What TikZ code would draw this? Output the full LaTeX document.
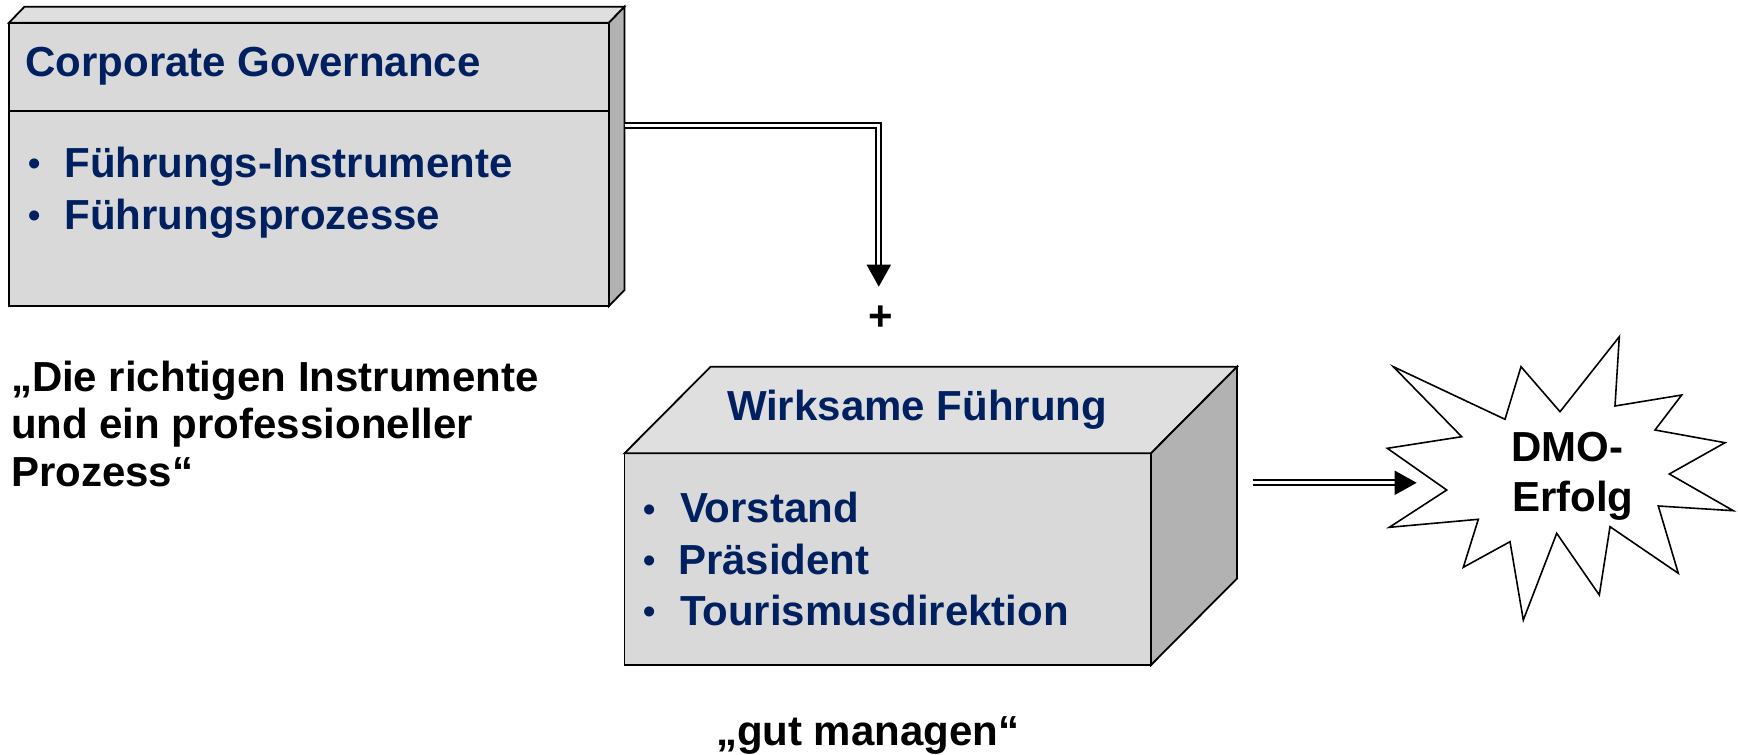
\documentclass[tikz,border=0pt]{standalone}
\usepackage{fontspec}
\setmainfont{Liberation Sans}
\usetikzlibrary{arrows.meta}
\definecolor{navy}{RGB}{0,32,96}
\definecolor{facegray}{RGB}{217,217,217}
\definecolor{topgray}{RGB}{223,223,223}
\definecolor{sidegray}{RGB}{178,178,178}

\begin{document}
\begin{tikzpicture}[x=1pt,y=-1pt,
  front/.style={rectangle,draw=black,fill=facegray,line width=1.8pt,inner sep=0pt,outer sep=0pt,anchor=north west},
  topface/.style={draw=black,fill=topgray,line width=1.8pt,line join=miter},
  sideface/.style={draw=black,fill=sidegray,line width=1.8pt,line join=miter},
  txt/.style={inner sep=0pt,outer sep=0pt,font=\fontsize{42}{48}\selectfont\bfseries},
  navytxt/.style={txt,text=navy},
  dot/.style={inner sep=0pt,outer sep=0pt,anchor=base,text=navy,font=\fontsize{35}{40}\selectfont\bfseries},
  dblarrow/.style={draw=black,line width=1.9pt,double=white,double distance=3.2pt,
    -{Triangle[length=22pt,width=24pt]}},
  burst/.style={draw=black,fill=white,line width=1.6pt,line join=miter}
]
\useasboundingbox (0,0) rectangle (1738,755);

% ---- Corporate Governance box ----
\node[front,minimum width=600pt,minimum height=283.3pt] (cg) at (9,22.7) {};
\draw[topface] (cg.north west) -- ([shift={(15.5,-16)}]cg.north west)
  -- ([shift={(15.5,-16)}]cg.north east) -- (cg.north east) -- cycle;
\draw[sideface] (cg.north east) -- ([shift={(15.5,-16)}]cg.north east)
  -- ([shift={(15.5,-16)}]cg.south east) -- (cg.south east) -- cycle;
\draw[line width=1.8pt] ([shift={(0,88.3)}]cg.north west) -- ([shift={(0,88.3)}]cg.north east);

\node[navytxt,anchor=base west] (cgtitle) at (25.5,76) {Corporate Governance};
\node[dot] (cgb1) at (34.7,175) {•};
\node[navytxt,anchor=base west] (cgi1) at (64.5,177.3) {Führungs-Instrumente};
\node[dot] (cgb2) at (34.7,227) {•};
\node[navytxt,anchor=base west] (cgi2) at (64.5,229.3) {Führungsprozesse};

% ---- Wirksame Führung box ----
\node[front,minimum width=526.5pt,minimum height=211.7pt] (wf) at (624.5,453.3) {};
\draw[topface] (wf.north west) -- ([shift={(86,-86.5)}]wf.north west)
  -- ([shift={(86,-86.5)}]wf.north east) -- (wf.north east) -- cycle;
\draw[sideface] (wf.north east) -- ([shift={(86,-86.5)}]wf.north east)
  -- ([shift={(86,-86.5)}]wf.south east) -- (wf.south east) -- cycle;

\node[navytxt,anchor=base] (wftitle) at (917,420) {Wirksame Führung};
\node[dot] (wfb1) at (649.4,521) {•};
\node[navytxt,anchor=base west] (wfi1) at (680,522.7) {Vorstand};
\node[dot] (wfb2) at (649.4,572.3) {•};
\node[navytxt,anchor=base west] (wfi2) at (678,574) {Präsident};
\node[dot] (wfb3) at (649.4,623.3) {•};
\node[navytxt,anchor=base west] (wfi3) at (680,625) {Tourismusdirektion};

% ---- captions ----
\node[txt,anchor=base west] (q1) at (11,391) {„Die richtigen Instrumente};
\node[txt,anchor=base west] (q2) at (11,438.5) {und ein professioneller};
\node[txt,anchor=base west] (q3) at (11,486.5) {Prozess“};
\node[txt,anchor=base west] (gut) at (716,745) {„gut managen“};
\node[txt] (plus) at (881,318.3) {+};

% ---- success burst ----
\draw[burst] (1619.3,336.7) -- (1615,406) -- (1681.7,395) -- (1655,430)
  -- (1725,442.7) -- (1669.3,474) -- (1733.3,510.7) -- (1658.3,506)
  -- (1678.3,573.3) -- (1610,526.7) -- (1599.3,595) -- (1556.7,533.3)
  -- (1523.3,620) -- (1510,541.7) -- (1463.3,567.3) -- (1478.3,519.3)
  -- (1389.3,527.3) -- (1446.7,490) -- (1387.3,448.3) -- (1461.7,436.7)
  -- (1393.3,366.7) -- (1505,419.3) -- (1521,366.7) -- (1560,411.7) -- cycle;
\node[txt,anchor=base west] (dmo1) at (1511,461.7) {DMO-};
\node[txt,anchor=base west] (dmo2) at (1512,511.7) {Erfolg};

% ---- connectors ----
\coordinate (cgout) at (624.5,125.8);
\coordinate (cgin) at (878.8,286.7);
\draw[dblarrow] (cgout) -| (cgin);

\coordinate (wfout) at (1252.6,482.8);
\coordinate (dmoin) at (1416.7,482.8);
\draw[dblarrow] (wfout) -- (dmoin);
\end{tikzpicture}
\end{document}
